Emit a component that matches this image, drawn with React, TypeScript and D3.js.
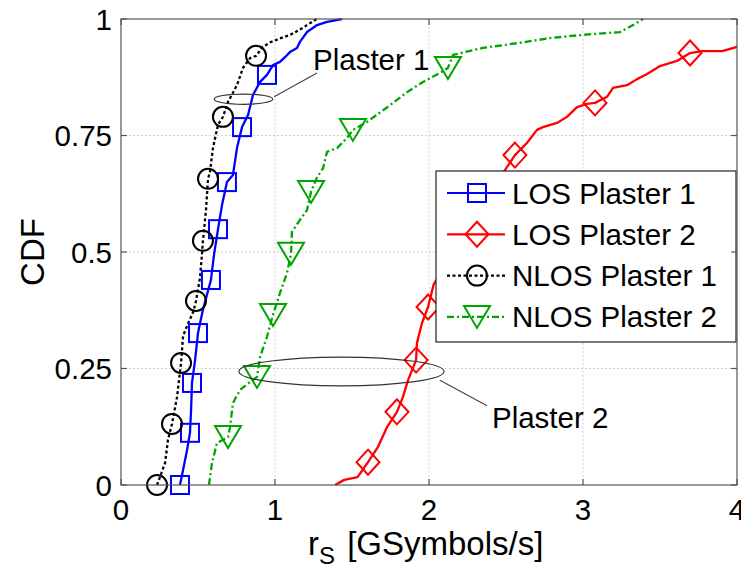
import React from 'react';
import * as d3 from 'd3';

type P = [number, number];

// Axis ticks
const xTicks = [0, 1, 2, 3, 4];
const xTickLabels = ['0', '1', '2', '3', '4'];
const yTicks = [0, 0.25, 0.5, 0.75, 1];
const yTickLabels = ['0', '0.25', '0.5', '0.75', '1'];

// Series names (legend order)
const seriesNames = ['LOS Plaster 1', 'LOS Plaster 2', 'NLOS Plaster 1', 'NLOS Plaster 2'];

// LOS Plaster 1: empirical CDF of symbol rate
const losP1Line: P[] = [
  [0.403, 0.032], [0.429, 0.075], [0.455, 0.161], [0.481, 0.268], [0.532, 0.376], [0.558, 0.408],
  [0.604, 0.494], [0.656, 0.601], [0.727, 0.665], [0.753, 0.723], [0.825, 0.794], [0.857, 0.837],
  [0.903, 0.865], [0.987, 0.901], [1.032, 0.908], [1.065, 0.918], [1.097, 0.929], [1.143, 0.938],
  [1.162, 0.951], [1.208, 0.972], [1.273, 0.987], [1.338, 0.994], [1.435, 1.0],
];
const losP1Marks: P[] = [
  [0.383, 0], [0.448, 0.112], [0.461, 0.219], [0.5, 0.326], [0.584, 0.44], [0.63, 0.549],
  [0.688, 0.65], [0.786, 0.768], [0.948, 0.88],
];

// LOS Plaster 2
const losP2Line: P[] = [
  [1.39, 0], [1.45, 0.011], [1.536, 0.017], [1.669, 0.082], [1.727, 0.124], [1.831, 0.189],
  [1.864, 0.225], [1.922, 0.305], [1.955, 0.348], [2.03, 0.43], [2.24, 0.54], [2.42, 0.65],
  [2.49, 0.674], [2.636, 0.734], [2.701, 0.762], [2.74, 0.768], [2.831, 0.777], [2.896, 0.79],
  [2.961, 0.811], [3.026, 0.818], [3.156, 0.833], [3.195, 0.852], [3.286, 0.858], [3.351, 0.871],
  [3.416, 0.882], [3.5, 0.899], [3.61, 0.91], [3.773, 0.931], [3.903, 0.931], [4.0, 0.94],
];
const losP2Marks: P[] = [
  [1.604, 0.049], [1.792, 0.157], [1.916, 0.268], [1.994, 0.382], [2.14, 0.49], [2.35, 0.6],
  [2.558, 0.708], [3.078, 0.82], [3.695, 0.927],
];

// NLOS Plaster 1
const nlosP1Line: P[] = [
  [0.286, 0.047], [0.305, 0.097], [0.364, 0.189], [0.403, 0.32], [0.44, 0.35], [0.47, 0.372],
  [0.513, 0.445], [0.526, 0.496], [0.552, 0.59], [0.578, 0.672], [0.597, 0.723], [0.63, 0.773],
  [0.695, 0.822], [0.753, 0.858], [0.792, 0.895], [0.838, 0.916], [0.92, 0.94], [0.97, 0.95],
  [1.03, 0.958], [1.1, 0.966], [1.18, 0.981], [1.27, 1.0],
];
const nlosP1Marks: P[] = [
  [0.234, 0], [0.331, 0.131], [0.39, 0.262], [0.487, 0.395], [0.532, 0.524], [0.565, 0.657],
  [0.662, 0.79], [0.877, 0.921],
];

// NLOS Plaster 2
const nlosP2Line: P[] = [
  [0.571, 0], [0.591, 0.047], [0.623, 0.09], [0.708, 0.124], [0.727, 0.176], [0.773, 0.204],
  [0.838, 0.221], [0.903, 0.275], [0.948, 0.318], [1.032, 0.412], [1.078, 0.455], [1.11, 0.543],
  [1.162, 0.569], [1.208, 0.59], [1.273, 0.66], [1.312, 0.68], [1.338, 0.715], [1.403, 0.723],
  [1.468, 0.745], [1.597, 0.779], [1.747, 0.815], [1.857, 0.843], [1.961, 0.865], [2.071, 0.884],
  [2.156, 0.923], [2.35, 0.938], [2.571, 0.948], [2.786, 0.959], [3.0, 0.966], [3.24, 0.972],
  [3.325, 0.987], [3.39, 1.0],
];
const nlosP2Marks: P[] = [
  [0.695, 0.103], [0.883, 0.232], [0.987, 0.365], [1.104, 0.496], [1.234, 0.629], [1.506, 0.762],
  [2.123, 0.895],
];

// Grouping annotations (data units): ellipse centre, radii, leader line, label
const annoLabels = ['Plaster 1', 'Plaster 2'];
const annoEllipses = [
  [0.795, 0.828, 0.19, 0.011],
  [1.432, 0.2436, 0.666, 0.031],
];
const annoLeaders = [
  [0.994, 0.833, 1.273, 0.884],
  [2.071, 0.225, 2.377, 0.17],
];
const annoText: P[] = [
  [1.247, 0.891],
  [2.409, 0.122],
];

const W = 741;
const H = 571;
const FONT = '"Liberation Sans", Arial, Helvetica, sans-serif';

const x = d3.scaleLinear().domain([0, 4]).range([121, 737]);
const y = d3.scaleLinear().domain([0, 1]).range([485, 19]);

type MarkerKind = 'square' | 'diamond' | 'circle' | 'tri';

const series = [
  { name: seriesNames[0], line: losP1Line, marks: losP1Marks, color: '#0000ff', dash: undefined, kind: 'square' as MarkerKind },
  { name: seriesNames[1], line: losP2Line, marks: losP2Marks, color: '#ff0000', dash: undefined, kind: 'diamond' as MarkerKind },
  { name: seriesNames[2], line: nlosP1Line, marks: nlosP1Marks, color: '#000000', dash: '3,2.5', kind: 'circle' as MarkerKind },
  { name: seriesNames[3], line: nlosP2Line, marks: nlosP2Marks, color: '#00a400', dash: '7,3,2,3', kind: 'tri' as MarkerKind },
];

function Marker({ kind, cx, cy, color }: { kind: MarkerKind; cx: number; cy: number; color: string }) {
  const common = { fill: 'none', stroke: color, strokeWidth: 2 };
  if (kind === 'square') return <rect x={cx - 9} y={cy - 9} width={18} height={18} {...common} />;
  if (kind === 'circle') return <circle cx={cx} cy={cy} r={10} {...common} />;
  if (kind === 'diamond')
    return <path d={`M${cx},${cy - 12.5}L${cx + 11.5},${cy}L${cx},${cy + 12.5}L${cx - 11.5},${cy}Z`} {...common} />;
  return <path d={`M${cx - 13},${cy - 11}L${cx + 13},${cy - 11}L${cx},${cy + 11}Z`} {...common} />;
}

export default function App() {
  const lineGen = d3
    .line<P>()
    .x((d) => x(d[0]))
    .y((d) => y(d[1]));

  const plotL = x(0);
  const plotR = x(4);
  const plotT = y(1);
  const plotB = y(0);

  const tickFs = 29.5;
  const labelFs = 33;

  // legend layout
  const lgX = 436;
  const lgY = 171;
  const lgW = 300;
  const lgH = 171;
  const rowH = 41.3;

  return (
    <svg
      width={W}
      height={H}
      viewBox={`0 0 ${W} ${H}`}
      style={{ position: 'absolute', left: 0, top: 0, background: '#fff' }}
      fontFamily={FONT}
    >
      <defs>
        <clipPath id="plotClip">
          <rect x={plotL} y={plotT - 1} width={plotR - plotL} height={plotB - plotT + 2} />
        </clipPath>
      </defs>
      <rect x={0} y={0} width={W} height={H} fill="#fff" />

      {/* grid */}
      <g stroke="#c4c4c4" strokeWidth={1} strokeDasharray="1.5,2.5">
        {xTicks.slice(1, -1).map((t) => (
          <line key={'gx' + t} x1={x(t)} x2={x(t)} y1={plotT} y2={plotB} />
        ))}
        {yTicks.slice(1, -1).map((t) => (
          <line key={'gy' + t} x1={plotL} x2={plotR} y1={y(t)} y2={y(t)} />
        ))}
      </g>

      {/* CDF curves */}
      <g clipPath="url(#plotClip)">
        {series.map((s) => {
          const pts = [...s.line, ...s.marks].sort((a, b) => a[1] - b[1] || a[0] - b[0]);
          return (
            <path
              key={s.name}
              d={lineGen(pts) || ''}
              fill="none"
              stroke={s.color}
              strokeWidth={2.3}
              strokeDasharray={s.dash}
              strokeLinejoin="round"
            />
          );
        })}
      </g>

      {/* markers */}
      {series.map((s) => (
        <g key={s.name + 'm'}>
          {s.marks.map((m, i) => (
            <Marker key={i} kind={s.kind} cx={x(m[0])} cy={y(m[1])} color={s.color} />
          ))}
        </g>
      ))}

      {/* annotations */}
      {annoLabels.map((lab, i) => {
        const [ecx, ecy, erx, ery] = annoEllipses[i];
        const [lx1, ly1, lx2, ly2] = annoLeaders[i];
        return (
          <g key={lab}>
            <ellipse
              cx={x(ecx)}
              cy={y(ecy)}
              rx={x(ecx + erx) - x(ecx)}
              ry={y(ecy) - y(ecy + ery)}
              fill="none"
              stroke="#333"
              strokeWidth={1.2}
            />
            <line x1={x(lx1)} y1={y(ly1)} x2={x(lx2)} y2={y(ly2)} stroke="#444" strokeWidth={1.1} />
            <text x={x(annoText[i][0])} y={y(annoText[i][1])} fontSize={tickFs} fill="#000">
              {lab}
            </text>
          </g>
        );
      })}

      {/* legend */}
      <g>
        <rect x={lgX} y={lgY} width={lgW} height={lgH} fill="#fff" stroke="#222" strokeWidth={1.2} />
        {series.map((s, i) => {
          const cy = lgY + 22 + i * rowH;
          return (
            <g key={s.name + 'lg'}>
              <line x1={447} x2={505} y1={cy} y2={cy} stroke={s.color} strokeWidth={2.2} strokeDasharray={s.dash} />
              <Marker kind={s.kind} cx={477} cy={cy} color={s.color} />
              <text x={512} y={cy + 10.5} fontSize={tickFs} fill="#000">
                {s.name}
              </text>
            </g>
          );
        })}
      </g>

      {/* axes box and ticks */}
      <g stroke="#555" strokeWidth={1.2}>
        <rect x={plotL} y={plotT} width={plotR - plotL} height={plotB - plotT} fill="none" />
        {xTicks.map((t) => (
          <g key={'tx' + t}>
            <line x1={x(t)} x2={x(t)} y1={plotB} y2={plotB - 6} />
            <line x1={x(t)} x2={x(t)} y1={plotT} y2={plotT + 6} />
          </g>
        ))}
        {yTicks.map((t) => (
          <g key={'ty' + t}>
            <line x1={plotL} x2={plotL + 6} y1={y(t)} y2={y(t)} />
            <line x1={plotR} x2={plotR - 6} y1={y(t)} y2={y(t)} />
          </g>
        ))}
      </g>

      {/* tick labels */}
      <g fontSize={tickFs} fill="#000">
        {xTicks.map((t, i) => (
          <text key={'lx' + t} x={x(t)} y={520} textAnchor="middle">
            {xTickLabels[i]}
          </text>
        ))}
        {yTicks.map((t, i) => (
          <text key={'ly' + t} x={plotL - 9} y={y(t) + 10.5} textAnchor="end">
            {yTickLabels[i]}
          </text>
        ))}
      </g>

      {/* axis labels */}
      <text x={308} y={555} fontSize={labelFs} fill="#000">
        r
        <tspan fontSize={24} dy={9}>
          S
        </tspan>
        <tspan dy={-9} dx={3}>
          {' [GSymbols/s]'}
        </tspan>
      </text>
      <text
        transform={`translate(44, ${(plotT + plotB) / 2}) rotate(-90)`}
        textAnchor="middle"
        fontSize={labelFs}
        fill="#000"
      >
        CDF
      </text>
    </svg>
  );
}
